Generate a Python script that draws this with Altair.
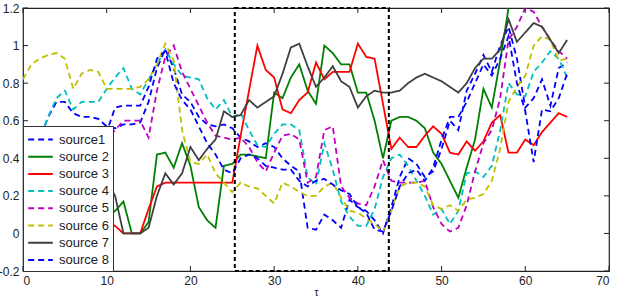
import altair as alt
import pandas as pd

# ---- data ----
sources = ["source1", "source 2", "source 3", "source 4",
           "source 5", "source 6", "source 7", "source 8"]
colors = ["#0000ff", "#008000", "#ff0000", "#00bfbf",
          "#bf00bf", "#bfbf00", "#404040", "#0000ff"]
dashes = [[6, 4], [1, 0], [1, 0], [6, 4], [6, 4], [6, 4], [1, 0], [6, 4]]

s1 = [0.40, 0.45, 0.50, 0.62, 0.70, 0.70, 0.64, 0.62, 0.62, 0.61,
      0.57, 0.56, 0.58, 0.58, 0.59, 0.70, 0.88, 0.98, 0.88, 0.74,
      0.70, 0.62, 0.58, 0.57, 0.58, 0.56, 0.51, 0.49, 0.46, 0.48,
      0.46, 0.40, 0.36, 0.33, 0.03, 0.02, 0.10, 0.07, 0.03, 0.18,
      0.14, 0.12, 0.07, 0.00, 0.14, 0.30, 0.40, 0.37, 0.30, 0.33,
      0.45, 0.60, 0.55, 0.76, 0.85, 0.95, 0.86, 1.00, 1.10, 0.93,
      0.67, 0.72, 0.82, 0.68, 0.88, 0.91]
s2 = [0.20, 0.25, 0.30, 0.28, 0.25, 0.20, 0.22, 0.18, 0.15, 0.10,
      0.08, 0.12, 0.17, 0.00, 0.00, 0.06, 0.42, 0.43, 0.35, 0.48,
      0.36, 0.14, 0.07, 0.03, 0.36, 0.37, 0.42, 0.42, 0.41, 0.40,
      0.75, 0.72, 0.83, 0.90, 0.76, 0.69, 1.00, 0.96, 0.90, 0.90,
      0.75, 0.75, 0.60, 0.40, 0.60, 0.62, 0.62, 0.60, 0.56, 0.43,
      0.37, 0.28, 0.19, 0.35, 0.50, 0.77, 0.67, 0.92, 1.20]
s3 = [0.10, 0.15, 0.20, 0.18, 0.15, 0.12, 0.10, 0.12, 0.10, 0.08,
      0.06, 0.04, 0.00, 0.00, 0.00, 0.13, 0.25, 0.27, 0.27, 0.27,
      0.27, 0.27, 0.27, 0.27, 0.27, 0.27, 0.52, 0.76, 1.00, 0.87,
      0.83, 0.66, 0.64, 0.71, 0.75, 0.91, 0.82, 0.86, 0.86, 0.86,
      1.01, 0.94, 0.93, 0.69, 0.45, 0.51, 0.46, 0.46, 0.52, 0.57,
      0.53, 0.43, 0.42, 0.49, 0.44, 0.49, 0.59, 0.63, 0.43, 0.43,
      0.50, 0.47, 0.54, 0.59, 0.64, 0.62]
s4 = [0.40, 0.45, 0.50, 0.62, 0.72, 0.76, 0.66, 0.70, 0.70, 0.70,
      0.77, 0.83, 0.88, 0.77, 0.74, 0.82, 0.90, 0.98, 0.90, 0.84,
      0.83, 0.82, 0.72, 0.66, 0.71, 0.62, 0.64, 0.55, 0.47, 0.46,
      0.53, 0.58, 0.58, 0.55, 0.30, 0.26, 0.48, 0.34, 0.17, 0.09,
      0.04, 0.04, 0.13, 0.30, 0.40, 0.42, 0.36, 0.28, 0.20, 0.10,
      0.13, 0.05, 0.12, 0.32, 0.33, 0.30, 0.36, 0.55, 0.80, 0.74,
      0.73, 0.86, 0.91, 0.97, 0.93, 0.83]
s5 = [0.30, 0.35, 0.40, 0.42, 0.45, 0.40, 0.42, 0.45, 0.48, 0.50,
      0.50, 0.55, 0.60, 0.60, 0.60, 0.51, 0.76, 0.94, 1.00, 0.86,
      0.77, 0.68, 0.59, 0.52, 0.51, 0.50, 0.51, 0.46, 0.38, 0.33,
      0.43, 0.52, 0.53, 0.50, 0.27, 0.30, 0.55, 0.57, 0.25, 0.19,
      0.16, 0.15, 0.25, 0.39, 0.28, 0.27, 0.27, 0.27, 0.28, 0.14,
      0.05, 0.01, 0.03, 0.15, 0.33, 0.48, 0.55, 0.72, 1.03, 1.10,
      1.20, 1.18, 1.10, 1.03, 0.97, 0.93]
s6 = [0.82, 0.90, 0.93, 0.95, 0.96, 0.93, 0.77, 0.85, 0.87, 0.86,
      0.77, 0.77, 0.77, 0.77, 0.78, 0.82, 0.90, 1.01, 0.92, 0.55,
      0.38, 0.37, 0.42, 0.32, 0.27, 0.22, 0.27, 0.25, 0.24, 0.20,
      0.16, 0.27, 0.25, 0.22, 0.20, 0.20, 0.25, 0.27, 0.19, 0.12,
      0.11, 0.08, 0.05, 0.01, 0.12, 0.25, 0.27, 0.27, 0.25, 0.15,
      0.13, 0.15, 0.12, 0.18, 0.19, 0.21, 0.28, 0.45, 0.70, 0.78,
      0.84, 1.00, 1.05, 1.03, 0.92, 0.93]
s7 = [0.30, 0.35, 0.38, 0.40, 0.36, 0.32, 0.35, 0.30, 0.33, 0.30,
      0.28, 0.20, 0.00, 0.00, 0.00, 0.03, 0.20, 0.32, 0.26, 0.32,
      0.46, 0.39, 0.45, 0.50, 0.65, 0.62, 0.63, 0.71, 0.67, 0.70,
      0.73, 0.85, 0.99, 1.01, 0.89, 0.78, 0.83, 0.89, 0.81, 0.78,
      0.67, 0.73, 0.76, 0.75, 0.75, 0.76, 0.80, 0.83, 0.85, 0.83,
      0.81, 0.78, 0.75, 0.80, 0.88, 0.93, 0.93, 0.98, 1.14, 1.02,
      1.07, 1.12, 1.10, 1.03, 0.96, 1.03]
s8 = [0.35, 0.38, 0.40, 0.42, 0.45, 0.44, 0.46, 0.48, 0.50, 0.52,
      0.54, 0.67, 0.68, 0.68, 0.68, 0.78, 0.93, 0.97, 0.80, 0.71,
      0.66, 0.57, 0.48, 0.42, 0.34, 0.32, 0.40, 0.42, 0.40, 0.36,
      0.35, 0.34, 0.34, 0.28, 0.25, 0.28, 0.29, 0.26, 0.23, 0.21,
      0.14, 0.11, 0.02, 0.01, 0.12, 0.25, 0.32, 0.34, 0.28, 0.35,
      0.50, 0.62, 0.62, 0.70, 0.80, 0.90, 0.84, 0.93, 1.05, 0.80,
      0.65, 0.38, 0.66, 0.65, 0.72, 0.85]
series_values = [s1, s2, s3, s4, s5, s6, s7, s8]

x_ticks = [0, 10, 20, 30, 40, 50, 60, 70]
y_ticks = [-0.2, 0, 0.2, 0.4, 0.6, 0.8, 1.0, 1.2]
box_x = [25.3, 43.7]
box_y = [-0.2, 1.2]

# ---- tables ----
rows = []
for name, vals in zip(sources, series_values):
    for i, v in enumerate(vals):
        rows.append({"tau": i, "value": v, "series": name})
df = pd.DataFrame(rows)

W, H = 586, 263
xs = alt.Scale(domain=[0, 70], nice=False, zero=False)
ys = alt.Scale(domain=[-0.2, 1.2], nice=False, zero=False)

FONT = "Liberation Sans"

xa = alt.Axis(values=x_ticks, tickSize=0, domain=False, grid=False,
              labelFont=FONT, labelFontSize=12, labelColor="#222",
              labelPadding=4, labelOverlap=False,
              titleFont=FONT, titleFontSize=11,
              titleFontWeight="normal", titleY=24,
              titleBaseline="alphabetic", titleColor="#222")
ya = alt.Axis(values=y_ticks, tickSize=0, domain=False, grid=False,
              labelFont=FONT, labelFontSize=12, labelColor="#222",
              labelPadding=4, labelOverlap=False, labelFlush=False,
              labelBound=False,
              labelExpr="replace(format(datum.value, '~g'), '\u2212', '-')")


def make_legend():
    return alt.Legend(orient="bottom-left", offset=0, title=None,
                      fillColor="white", strokeColor="#333",
                      padding=4, symbolType="M-1.45,0H1.45", symbolSize=289,
                      symbolStrokeWidth=2, symbolOffset=4, labelFont=FONT,
                      labelFontSize=13, labelColor="#222",
                      rowPadding=0.2, labelOffset=9)


lines = alt.Chart(df).mark_line(strokeWidth=1.8, clip=True).encode(
    x=alt.X("tau:Q", scale=xs, title="τ", axis=xa),
    y=alt.Y("value:Q", scale=ys, title=None, axis=ya),
    color=alt.Color("series:N", scale=alt.Scale(domain=sources, range=colors),
                    sort=sources, legend=make_legend()),
    strokeDash=alt.StrokeDash("series:N", scale=alt.Scale(domain=sources, range=dashes),
                              sort=sources, legend=make_legend()),
    detail="series:N",
)

box_df = pd.DataFrame({"x0": [box_x[0]], "x1": [box_x[1]], "y0": [box_y[0]], "y1": [box_y[1]]})
box = alt.Chart(box_df).mark_rect(fillOpacity=0, stroke="black", strokeWidth=2,
                                  strokeDash=[4, 3]).encode(
    x=alt.X("x0:Q", scale=xs, title="τ", axis=xa), x2="x1:Q",
    y=alt.Y("y0:Q", scale=ys, title=None, axis=ya), y2="y1:Q")

xt = pd.DataFrame({"t": x_ticks})
yt = pd.DataFrame({"t": y_ticks})
tick_style = dict(color="#222", strokeWidth=1)
top_t = alt.Chart(xt).mark_rule(**tick_style).encode(
    x=alt.X("t:Q", scale=xs, title="τ", axis=xa), y=alt.value(0), y2=alt.value(5))
bot_t = alt.Chart(xt).mark_rule(**tick_style).encode(
    x=alt.X("t:Q", scale=xs, title="τ", axis=xa), y=alt.value(H - 5), y2=alt.value(H))
left_t = alt.Chart(yt).mark_rule(**tick_style).encode(
    y=alt.Y("t:Q", scale=ys, title=None, axis=ya), x=alt.value(0), x2=alt.value(5))
right_t = alt.Chart(yt).mark_rule(**tick_style).encode(
    y=alt.Y("t:Q", scale=ys, title=None, axis=ya), x=alt.value(W - 5), x2=alt.value(W))

chart = alt.layer(lines, box, top_t, bot_t, left_t, right_t).properties(
    width=W, height=H,
    padding={"left": 23, "top": 8, "right": 8, "bottom": 26},
    autosize=alt.AutoSizeParams(type="none"),
    background="white",
).configure_view(stroke="#222", strokeWidth=1.2).configure_axis(labelOverlap=False)

chart.save("out.html", embed_options={"renderer": "svg", "actions": False})
